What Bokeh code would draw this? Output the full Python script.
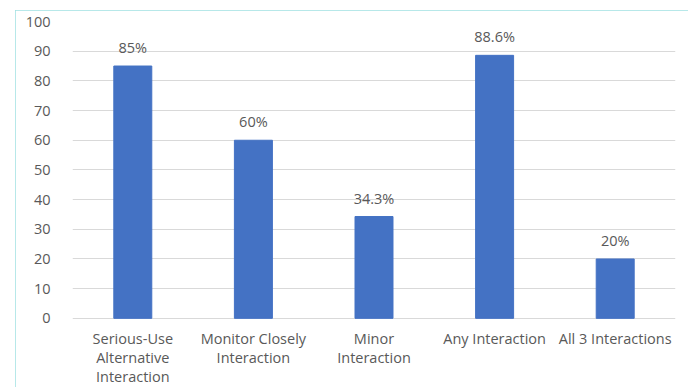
from bokeh.plotting import figure
from bokeh.models import ColumnDataSource, FixedTicker
from bokeh.core.properties import value
from bokeh.embed import file_html
from bokeh.resources import INLINE

categories = ["Serious-Use Alternative Interaction", "Monitor Closely Interaction",
              "Minor Interaction", "Any Interaction", "All 3 Interactions"]
category_labels = ["Serious-Use\nAlternative\nInteraction", "Monitor Closely\nInteraction",
                   "Minor\nInteraction", "Any Interaction", "All 3 Interactions"]
values = [85, 60, 34.3, 88.6, 20]
value_labels = ["85%", "60%", "34.3%", "88.6%", "20%"]
y_ticks = [0, 10, 20, 30, 40, 50, 60, 70, 80, 90, 100]

FONT = "Open Sans"
GRAY = "#595959"
FS = "14.5px"

src = ColumnDataSource(dict(cat=categories, val=values, lab=value_labels,
                            catlab=category_labels, zero=[0] * len(values)))

# frame extends below zero so the wrapped category labels can be drawn as text glyphs
p = figure(x_range=categories, y_range=(-23.3, 100), width=673, height=380,
           output_backend="svg", toolbar_location=None,
           min_border_left=57, min_border_right=13, min_border_top=11, min_border_bottom=3,
           margin=(10, 0, 0, 15),
           styles={"outline": "2px solid #9fe0e2", "outline-offset": "-2px"})
p.vbar(x="cat", top="val", width=0.315, source=src, color="#4472c4")

p.text(x="cat", y="val", text="lab", source=src, text_align="center",
       text_baseline="bottom", y_offset=-9, text_font=value(FONT),
       text_font_size=FS, text_color=GRAY)
p.text(x="cat", y="zero", text="catlab", source=src, text_align="center",
       text_baseline="top", y_offset=11, text_font=value(FONT),
       text_font_size=FS, text_color=GRAY, text_line_height=0.98)

p.outline_line_color = None
p.xgrid.grid_line_color = None
p.ygrid.grid_line_color = "#d9d9d9"
p.ygrid.grid_line_width = 1.2
p.ygrid.ticker = FixedTicker(ticks=y_ticks)
p.yaxis.ticker = FixedTicker(ticks=y_ticks)
p.yaxis.axis_line_color = None
p.yaxis.major_tick_line_color = None
p.yaxis.minor_tick_line_color = None
p.yaxis.major_label_standoff = 16
p.yaxis.major_label_text_font = FONT
p.yaxis.major_label_text_font_size = FS
p.yaxis.major_label_text_color = GRAY
p.xaxis.visible = False

open("out.html", "w").write(file_html(p, INLINE))
